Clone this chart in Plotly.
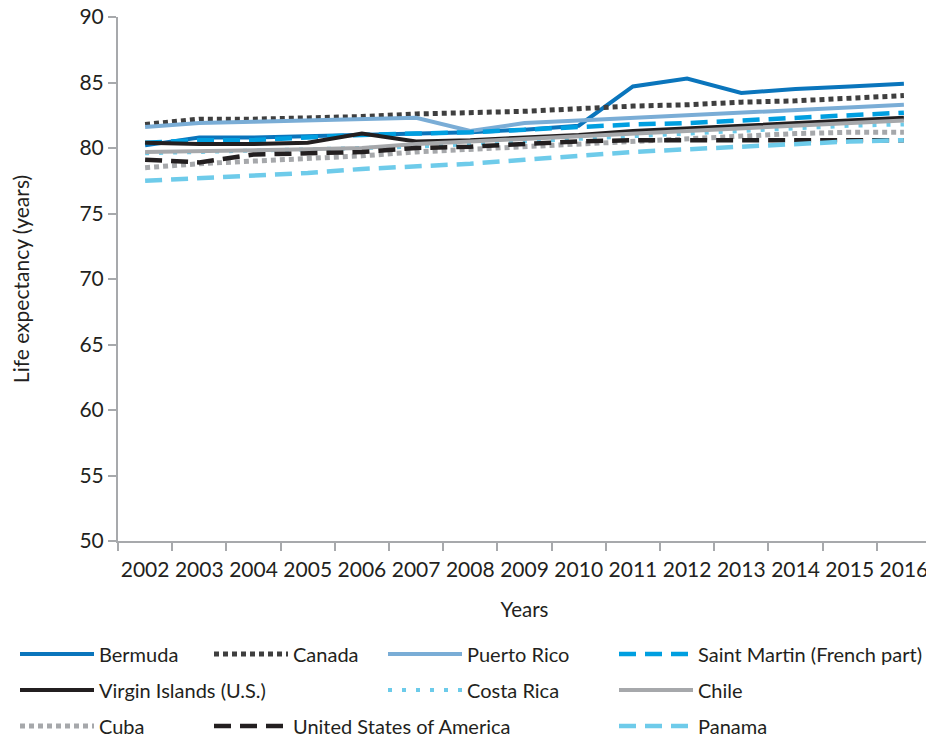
import plotly.graph_objects as go

years = [str(y) for y in range(2002, 2017)]

bermuda = [80.2, 80.8, 80.8, 80.9, 81.0, 81.1, 81.2, 81.4, 81.7, 84.7, 85.3, 84.2, 84.5, 84.7, 84.9]
canada = [81.8, 82.2, 82.2, 82.3, 82.4, 82.6, 82.7, 82.8, 83.0, 83.2, 83.3, 83.5, 83.6, 83.8, 84.0]
puerto_rico = [81.6, 81.9, 82.0, 82.1, 82.2, 82.3, 81.3, 81.9, 82.1, 82.3, 82.5, 82.7, 82.9, 83.1, 83.3]
saint_martin = [80.4, 80.6, 80.6, 80.8, 81.0, 81.1, 81.2, 81.4, 81.6, 81.8, 81.9, 82.1, 82.3, 82.5, 82.7]
virgin_islands = [80.4, 80.3, 80.3, 80.4, 81.1, 80.5, 80.6, 80.8, 81.0, 81.3, 81.5, 81.7, 81.9, 82.1, 82.3]
costa_rica = [79.6, 79.7, 79.8, 79.9, 80.0, 80.1, 80.3, 80.5, 80.7, 80.9, 81.1, 81.3, 81.5, 81.7, 81.8]
chile = [79.7, 79.75, 79.8, 79.9, 80.0, 80.3, 80.5, 80.7, 80.9, 81.1, 81.3, 81.5, 81.7, 81.9, 82.1]
cuba = [78.5, 78.8, 79.0, 79.2, 79.4, 79.7, 79.9, 80.1, 80.3, 80.5, 80.7, 80.9, 81.1, 81.2, 81.2]
usa = [79.1, 78.9, 79.5, 79.6, 79.7, 80.0, 80.1, 80.3, 80.5, 80.6, 80.6, 80.6, 80.6, 80.6, 80.6]
panama = [77.5, 77.7, 77.9, 78.1, 78.4, 78.6, 78.8, 79.1, 79.4, 79.7, 79.9, 80.1, 80.3, 80.5, 80.6]

y_ticks = [50, 55, 60, 65, 70, 75, 80, 85, 90]

FONT = "Lato"
TXT = "#231f20"
AX = "#a7a9ac"

# figure size and margins (page has an 8px body margin)
W, H = 934, 743
L, R, T, B = 110, 11, 9, 210
# plot area in page pixels
PX0, PY0 = 118, 17
PW, PH = W - L - R, H - T - B
PBOT = PY0 + PH

series = [
    # name, values, color, width, dash, text_x_px, row_y_px
    ("Bermuda", bermuda, "#0a75bc", 4, "solid", 99, 654),
    ("Canada", canada, "#3f3f3f", 5, "5px,4px", 293, 654),
    ("Puerto Rico", puerto_rico, "#7aadd6", 4, "solid", 467, 654),
    ("Saint Martin (French part)", saint_martin, "#009fe0", 4.5, "17px,9px", 698, 654),
    ("Virgin Islands (U.S.)", virgin_islands, "#231f20", 4, "solid", 99, 690),
    ("Costa Rica", costa_rica, "#6ccbea", 4, "4px,10px", 467, 690),
    ("Chile", chile, "#a6a8ab", 4, "solid", 698, 690),
    ("Cuba", cuba, "#a6a8ab", 5, "5px,4px", 99, 726),
    ("United States of America", usa, "#231f20", 4.5, "17px,9px", 293, 726),
    ("Panama", panama, "#6ecbea", 4.5, "17px,9px", 698, 726),
]

fig = go.Figure()
layout_legends = {}
ITEMW = 74
for i, (name, vals, color, width, dash, tx, ry) in enumerate(series):
    key = "legend" if i == 0 else f"legend{i+1}"
    fig.add_trace(go.Scatter(
        x=years, y=vals, name=name, mode="lines",
        line=dict(color=color, width=width, dash=dash),
        legend=key,
    ))
    origin_px = tx - (ITEMW + 10)
    layout_legends[key] = dict(
        x=(origin_px - PX0) / PW,
        y=-(ry - PBOT) / PH,
        xanchor="left", yanchor="middle",
        orientation="h",
        itemwidth=ITEMW,
        bgcolor="rgba(0,0,0,0)",
        borderwidth=0,
        font=dict(family=FONT, size=20, color=TXT),
    )

fig.update_layout(
    width=W, height=H,
    margin=dict(l=L, r=R, t=T, b=B, autoexpand=False),
    paper_bgcolor="white", plot_bgcolor="white",
    showlegend=True,
    font=dict(family=FONT, size=20.5, color=TXT),
    xaxis=dict(
        type="category",
        range=[-0.5, 14.5],
        showgrid=False, zeroline=False,
        showline=True, linecolor=AX, linewidth=2,
        ticks="outside", tickson="boundaries", ticklen=8, tickwidth=2, tickcolor=AX,
        tickangle=0,
        ticklabelstandoff=9,
        ticklabeloverflow="allow",
        tickfont=dict(family=FONT, size=21, color=TXT),
        title=dict(text="Years", font=dict(family=FONT, size=20.5, color=TXT), standoff=22),
    ),
    yaxis=dict(
        range=[50, 90],
        tickvals=y_ticks,
        showgrid=False, zeroline=False,
        showline=True, linecolor=AX, linewidth=2,
        ticks="outside", ticklen=8, tickwidth=2, tickcolor=AX,
        ticklabeloverflow="allow",
        tickfont=dict(family=FONT, size=21, color=TXT),
        title=dict(text="Life expectancy (years)", font=dict(family=FONT, size=21, color=TXT), standoff=49),
    ),
    **layout_legends,
)

fig.write_html("out.html")
